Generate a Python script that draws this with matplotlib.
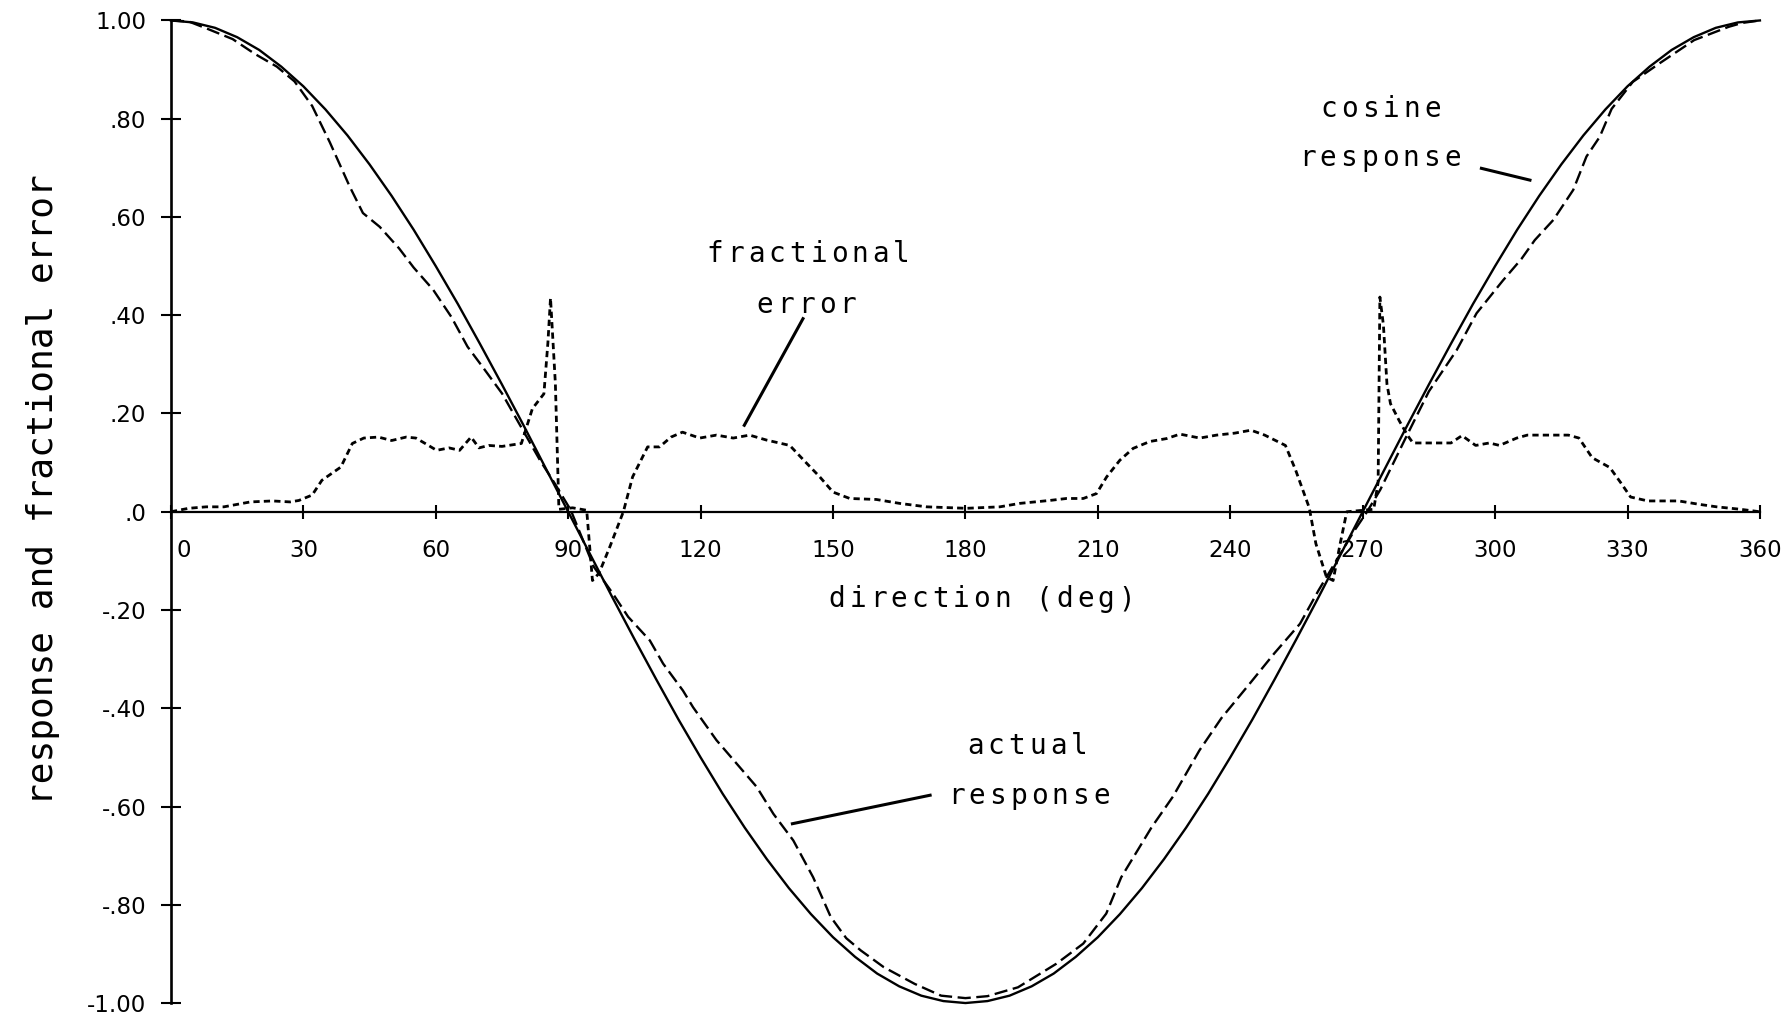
import numpy as np
import matplotlib
matplotlib.use("Agg")
import matplotlib.pyplot as plt
from matplotlib.transforms import ScaledTranslation

plt.rcParams['lines.scale_dashes'] = False

# cosine response, every 5 deg
cos_deg = np.arange(0, 365, 5)
cos_val = [1.000, 0.996, 0.985, 0.966, 0.940, 0.906, 0.866, 0.819, 0.766, 0.707,
           0.643, 0.574, 0.500, 0.423, 0.342, 0.259, 0.174, 0.087, 0.000,
           -0.087, -0.174, -0.259, -0.342, -0.423, -0.500, -0.574, -0.643, -0.707,
           -0.766, -0.819, -0.866, -0.906, -0.940, -0.966, -0.985, -0.996, -1.000,
           -0.996, -0.985, -0.966, -0.940, -0.906, -0.866, -0.819, -0.766, -0.707,
           -0.643, -0.574, -0.500, -0.423, -0.342, -0.259, -0.174, -0.087, 0.000,
           0.087, 0.174, 0.259, 0.342, 0.423, 0.500, 0.574, 0.643, 0.707,
           0.766, 0.819, 0.866, 0.906, 0.940, 0.966, 0.985, 0.996, 1.000]

# actual (measured) response
act_deg = [0, 4, 8, 14, 19, 24, 28, 32, 36, 40.5, 43.5, 47.3, 51.7, 55, 59.4, 63.5,
           67.2, 70.6, 75, 79.3, 83.6, 87, 90.6, 95.8, 100, 103.6, 108.5, 111.5, 116,
           118.3, 123.6, 128.2, 132.7, 136.5, 141, 145.5, 149.5, 153, 156.3, 161.5,
           168.5, 174.5, 180, 185, 191.9, 200.6, 206.7, 211.9, 215.3, 222.2, 227, 233,
           238, 244.4, 250, 255.8, 260, 264, 268, 271, 274, 277, 280, 285, 291.3,
           295.8, 301.8, 306, 309, 313.2, 317.7, 320.7, 323.7, 326.4, 331.2, 337.3,
           345.1, 352.9, 356, 360]
act_val = [1.000, 0.998, 0.984, 0.962, 0.932, 0.906, 0.876, 0.826, 0.752, 0.662, 0.608,
           0.580, 0.536, 0.497, 0.452, 0.397, 0.336, 0.295, 0.241, 0.173, 0.105, 0.057,
           0.003, -0.112, -0.165, -0.214, -0.262, -0.309, -0.364, -0.398, -0.465,
           -0.513, -0.560, -0.615, -0.669, -0.744, -0.825, -0.868, -0.893, -0.927,
           -0.961, -0.985, -0.990, -0.986, -0.968, -0.920, -0.879, -0.818, -0.744,
           -0.642, -0.580, -0.486, -0.420, -0.350, -0.288, -0.228, -0.160, -0.100,
           -0.040, 0.000, 0.045, 0.100, 0.155, 0.245, 0.329, 0.404, 0.471, 0.515,
           0.553, 0.594, 0.655, 0.723, 0.763, 0.820, 0.875, 0.913, 0.960, 0.987,
           0.995, 1.000]

# fractional error
err_deg = [0, 4, 8, 12, 18, 23, 27, 29, 32, 34.2, 38.5, 41.1, 43.7, 47, 50, 53.3, 55.5,
           57.6, 60.2, 63, 65.4, 68, 69.8, 72, 75, 79.4, 81.9, 84.5, 85.4, 86.0, 87.1,
           87.9, 91, 94.2, 95.5, 97, 99.5, 102.5, 104.6, 108, 110.7, 113.3, 115.9,
           119.8, 123.6, 127.4, 131.1, 134.9, 140.2, 144, 147, 150, 153.8, 159.8,
           165.1, 171.2, 180.2, 187.8, 192.3, 199.1, 202.9, 206.7, 209.7, 212, 215,
           218, 221.8, 225.6, 228.6, 233.1, 236.9, 241, 244.7, 247.8, 252.5, 254.8,
           257.9, 259.4, 261.8, 263.3, 264.9, 266.4, 272.5, 273.5, 273.9, 274.7,
           275.5, 276.3, 278.3, 280.2, 281.4, 290, 292.5, 295.6, 298.7, 301, 304.9,
           307.3, 311.2, 316.6, 319, 322, 326, 328.4, 330.7, 334.6, 341.6, 346.3,
           350.2, 355.6, 360]
err_val = [0.000, 0.007, 0.010, 0.010, 0.020, 0.022, 0.020, 0.023, 0.034, 0.064, 0.091,
           0.139, 0.150, 0.152, 0.145, 0.152, 0.150, 0.139, 0.125, 0.130, 0.125, 0.152,
           0.130, 0.135, 0.133, 0.139, 0.210, 0.240, 0.343, 0.435, 0.261, 0.005, 0.008,
           0.003, -0.140, -0.125, -0.070, 0.000, 0.071, 0.132, 0.132, 0.152, 0.162,
           0.150, 0.156, 0.150, 0.156, 0.146, 0.135, 0.099, 0.071, 0.040, 0.027, 0.025,
           0.017, 0.010, 0.007, 0.010, 0.017, 0.023, 0.027, 0.027, 0.037, 0.071, 0.105,
           0.129, 0.143, 0.149, 0.158, 0.150, 0.156, 0.160, 0.166, 0.156, 0.135, 0.085,
           0.008, -0.065, -0.133, -0.140, -0.065, 0.000, 0.005, 0.060, 0.437, 0.380,
           0.260, 0.220, 0.185, 0.155, 0.140, 0.140, 0.155, 0.135, 0.140, 0.135, 0.150,
           0.156, 0.156, 0.156, 0.150, 0.110, 0.090, 0.060, 0.030, 0.022, 0.022, 0.015,
           0.010, 0.005, 0.000]

x_ticks = [0, 30, 60, 90, 120, 150, 180, 210, 240, 270, 300, 330, 360]
x_tick_labels = ['0', '30', '60', '90', '120', '150', '180', '210', '240', '270',
                 '300', '330', '360']
y_ticks = [1.0, 0.8, 0.6, 0.4, 0.2, 0.0, -0.2, -0.4, -0.6, -0.8, -1.0]
y_tick_labels = ['1.00', '.80', '.60', '.40', '.20', '.0', '-.20', '-.40', '-.60',
                 '-.80', '-1.00']

MONO = 'DejaVu Sans Mono'


def spaced(ax, x, y, s, adv=20.7, size=20):
    # plotter-like lettering: fixed advance per character, in pixels
    n = len(s)
    for i, ch in enumerate(s):
        ax.annotate(ch, (x, y), xytext=((i - (n - 1) / 2) * adv, 0),
                    textcoords='offset pixels', ha='center', va='baseline',
                    fontsize=size, family=MONO, annotation_clip=False)


fig = plt.figure(figsize=(17.86, 10.18), dpi=100)
ax = fig.add_axes([0.0957, 0.0147, 0.8897, 0.9652])

ax.plot(cos_deg, cos_val, color='black', lw=1.7, clip_on=False)
l1, = ax.plot(act_deg, act_val, color='black', lw=1.7, clip_on=False)
l1.set_dashes([9.5, 4.0])
l2, = ax.plot(err_deg, err_val, color='black', lw=2.0, clip_on=False)
l2.set_dashes([4.5, 3.0])

ax.set_xlim(0, 360)
ax.set_ylim(-1, 1)
ax.spines['top'].set_visible(False)
ax.spines['right'].set_visible(False)
ax.spines['bottom'].set_position(('data', 0))
ax.spines['left'].set_linewidth(1.9)
ax.spines['bottom'].set_linewidth(1.6)

ax.set_xticks(x_ticks)
ax.set_xticklabels(x_tick_labels, fontsize=16.5, family='DejaVu Sans')
ax.set_yticks(y_ticks)
ax.set_yticklabels(y_tick_labels, fontsize=16.5, family='DejaVu Sans')
ax.tick_params(axis='x', direction='inout', length=9.5, width=1.5, pad=15)
ax.tick_params(axis='y', direction='inout', length=13.7, width=1.5, pad=11)
lab0 = ax.xaxis.get_major_ticks()[0].label1
lab0.set_horizontalalignment('left')
lab0.set_transform(lab0.get_transform() + ScaledTranslation(6 / 100, 0, fig.dpi_scale_trans))

# axis labels
spaced(ax, 183.7, -0.194, 'direction (deg)')
fig.text(0.0297, 0.5187, 'response and fractional error', rotation=90,
         rotation_mode='anchor', ha='center', va='baseline', fontsize=26, family=MONO)

# curve annotations
spaced(ax, 144.4, 0.509, 'fractional')
spaced(ax, 144.0, 0.404, 'error')
ax.plot([143.2, 129.9], [0.393, 0.176], color='black', lw=2.2)
spaced(ax, 274.1, 0.803, 'cosine')
spaced(ax, 273.9, 0.704, 'response')
ax.plot([296.9, 307.9], [0.699, 0.675], color='black', lw=2.2)
spaced(ax, 194.0, -0.4925, 'actual')
spaced(ax, 194.4, -0.594, 'response')
ax.plot([172.0, 140.8], [-0.577, -0.635], color='black', lw=2.2)

fig.savefig('out.png', dpi=100)
